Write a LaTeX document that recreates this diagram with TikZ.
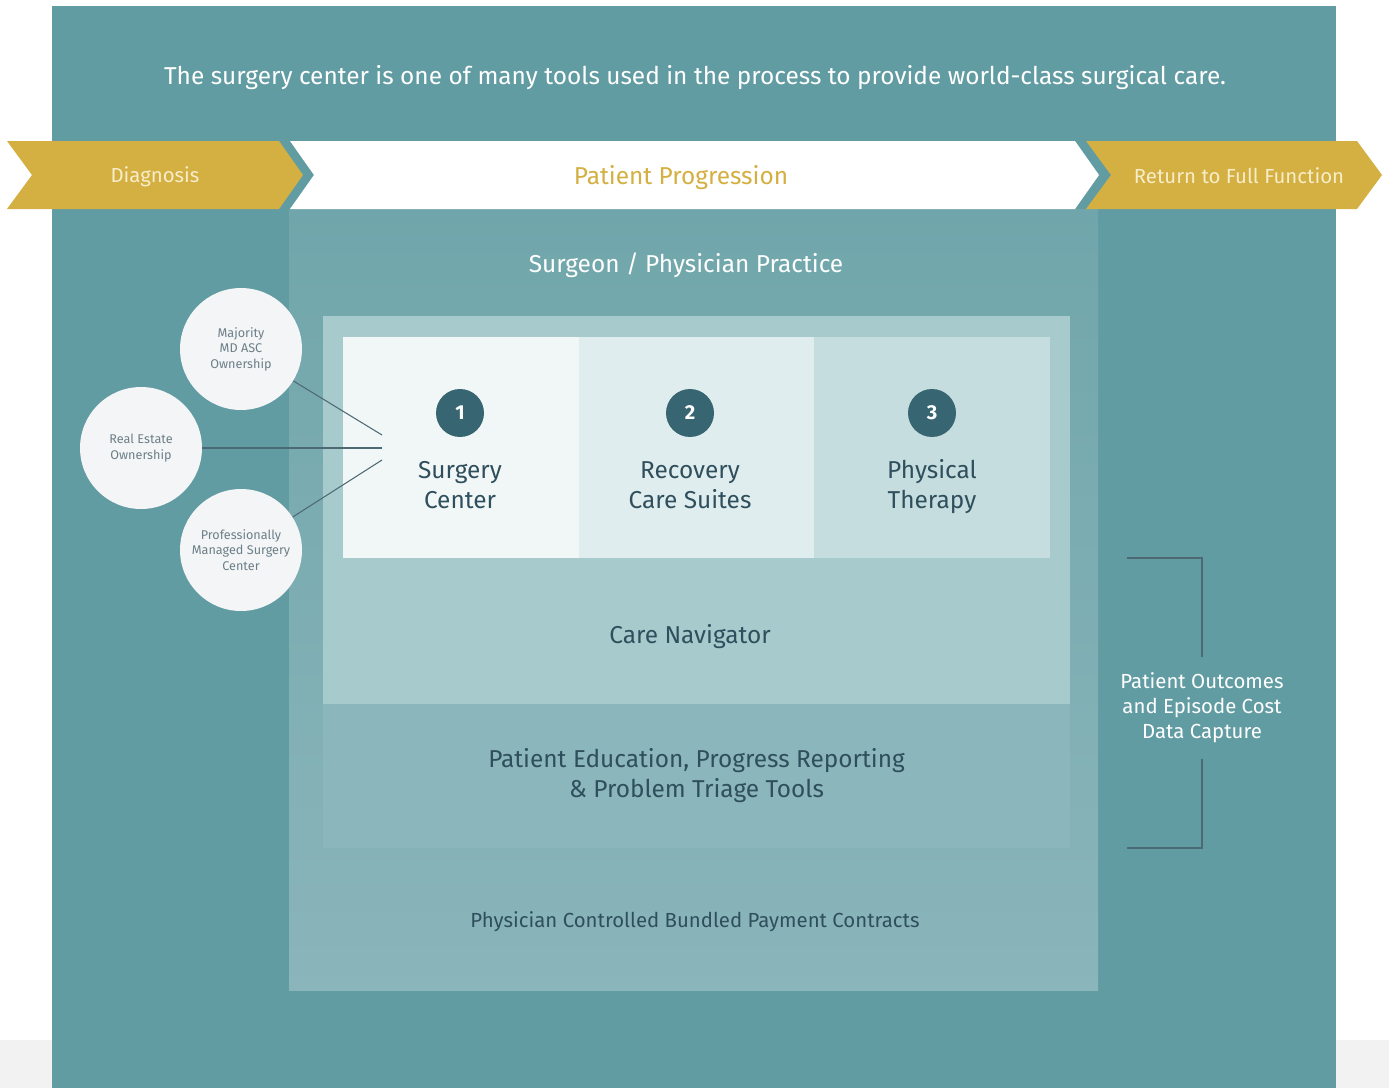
\documentclass[tikz,border=0pt]{standalone}
\usepackage{fontspec}
\setmainfont{Fira Sans}
\definecolor{tealbg}{HTML}{629CA3}
\definecolor{pagegrey}{HTML}{F2F2F2}
\definecolor{gold}{HTML}{D4AF41}
\definecolor{cream}{HTML}{F7EDC9}
\definecolor{panelTop}{HTML}{70A6AB}
\definecolor{panelBot}{HTML}{8AB5BA}
\definecolor{navfill}{HTML}{A7CACC}
\definecolor{edufill}{HTML}{8BB6BB}
\definecolor{boxa}{HTML}{F1F7F7}
\definecolor{boxb}{HTML}{E0EDEE}
\definecolor{boxc}{HTML}{C5DDDF}
\definecolor{discfill}{HTML}{376672}
\definecolor{darktext}{HTML}{2F4F5D}
\definecolor{circfill}{HTML}{F3F5F7}
\definecolor{circtext}{HTML}{6D7F88}
\definecolor{linkcol}{HTML}{4D6A74}
\tikzset{
	bigtext/.style={font=\fontsize{13.9pt}{17pt}\selectfont},
	midtext/.style={font=\fontsize{11.6pt}{14.2pt}\selectfont},
	stagebox/.style={rectangle,minimum width=4.72cm,minimum height=4.42cm,inner sep=0},
	numdisc/.style={circle,fill=discfill,text=white,minimum size=0.96cm,inner sep=0,font=\fontsize{11.5pt}{11.5pt}\selectfont\bfseries},
	stagelabel/.style={bigtext,text=darktext,align=center},
	ownercircle/.style={circle,fill=circfill,text=circtext,minimum size=2.44cm,inner sep=0,align=center,font=\fontsize{7.2pt}{8.8pt}\selectfont},
	linkline/.style={draw=linkcol,line width=0.6pt},
	bracketline/.style={draw=linkcol,line width=0.7pt}
}
\begin{document}
\begin{tikzpicture}[x=0.02cm,y=-0.02cm]
	\useasboundingbox (0,0) rectangle (1389,1088);
	\fill[white] (0,0) rectangle (1389,1088);
	\fill[pagegrey] (0,1040) rectangle (1389,1088);
	\fill[tealbg] (52,6) rectangle (1336,1088);
	\node at (695,78) (intro) [bigtext,text=white] {The surgery center is one of many tools used in the process to provide world-class surgical care.};

	\shade[top color=panelTop,bottom color=panelBot] (289,209) rectangle (1098,990);
	\fill[gold] (7,141) -- (279,141) -- (303,175) -- (279,209) -- (7,209) -- (32,175) -- cycle;
	\fill[white] (290,141) -- (1075,141) -- (1099,175) -- (1075,209) -- (290,209) -- (314,175) -- cycle;
	\fill[gold] (1086,141) -- (1357,141) -- (1382,175) -- (1357,209) -- (1086,209) -- (1111,175) -- cycle;
	\node at (155,177) (diagnosis) [midtext,text=cream] {Diagnosis};
	\node at (681,178) (progression) [bigtext,text=gold] {Patient Progression};
	\node at (1239,176) (fullfunction) [midtext,text=cream] {Return to Full Function};

	\node at (686,265) (practice) [bigtext,text=white] {Surgeon / Physician Practice};
	\node at (696.5,510) (navigator) [rectangle,fill=navfill,minimum width=14.94cm,minimum height=7.76cm,inner sep=0] {};
	\node at (690,637) (navlabel) [bigtext,text=darktext] {Care Navigator};
	\node at (696.5,776) (education) [rectangle,fill=edufill,minimum width=14.94cm,minimum height=2.88cm,inner sep=0,bigtext,text=darktext,align=center] {Patient Education, Progress Reporting\\\& Problem Triage Tools};
	\node at (695,922) (bundled) [midtext,text=darktext] {Physician Controlled Bundled Payment Contracts};

	\node at (461,447.5) (surgerybox) [stagebox,fill=boxa] {};
	\node at (696.5,447.5) (recoverybox) [stagebox,fill=boxb] {};
	\node at (932,447.5) (therapybox) [stagebox,fill=boxc] {};
	\node at (460,413) (num1) [numdisc] {1};
	\node at (690,413) (num2) [numdisc] {2};
	\node at (932,413) (num3) [numdisc] {3};
	\node at (460,485) (surgery) [stagelabel] {Surgery\\Center};
	\node at (690,485) (recovery) [stagelabel] {Recovery\\Care Suites};
	\node at (932,487) (therapy) [stagelabel] {Physical\\Therapy};

	\node at (241,349) (majority) [ownercircle] {Majority\\MD ASC\\Ownership};
	\node at (141,448) (realestate) [ownercircle] {Real Estate\\Ownership};
	\node at (241,550) (managed) [ownercircle] {Professionally\\Managed Surgery\\Center};
	\coordinate (hubA) at (382,435);
	\coordinate (hubB) at (382,448);
	\coordinate (hubC) at (382,460);
	\draw[linkline] (majority) -- (hubA);
	\draw[linkline] (realestate) -- (hubB);
	\draw[linkline] (managed) -- (hubC);

	\node at (1202,708) (outcomes) [midtext,text=white,align=center,minimum height=2.02cm,inner sep=0] {Patient Outcomes\\and Episode Cost\\Data Capture};
	\coordinate (bracketTop) at (1127,558);
	\coordinate (bracketBot) at (1127,848);
	\draw[bracketline] (bracketTop) -| (outcomes.north);
	\draw[bracketline] (bracketBot) -| (outcomes.south);
\end{tikzpicture}
\end{document}
